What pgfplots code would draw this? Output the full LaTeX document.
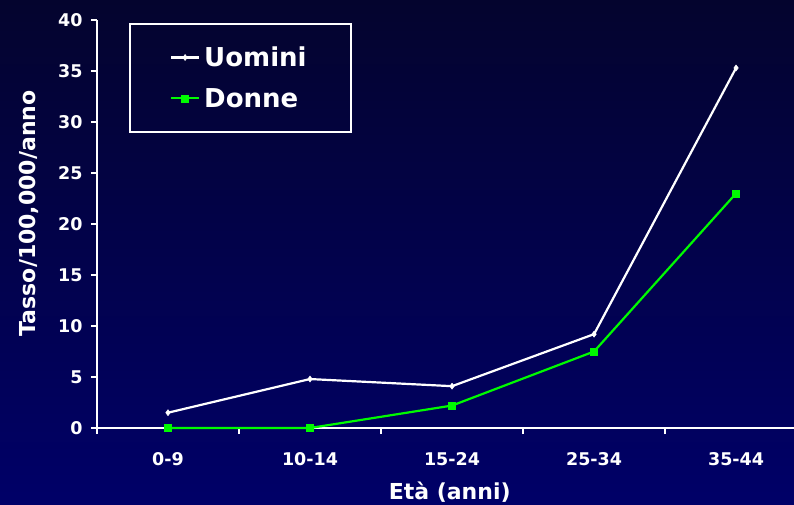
\documentclass[border=0pt]{standalone}
\usepackage{pgfplots}
\pgfplotsset{compat=1.18}
\usepackage{fontspec}
\setmainfont{DejaVu Sans}
\definecolor{bgtop}{RGB}{4,4,46}
\definecolor{bgmid}{RGB}{0,0,92}
\definecolor{bgbot}{RGB}{0,0,104}
\definecolor{dgreen}{RGB}{0,250,0}

\begin{document}
\begin{tikzpicture}
\useasboundingbox (0,0) rectangle (794bp,505bp);
\shade[top color=bgtop, middle color=bgmid, bottom color=bgbot] (0,0) rectangle (794bp,505bp);
\begin{axis}[
    at={(97bp,77bp)}, anchor=south west,
    scale only axis, width=697bp, height=408bp,
    xmin=-0.5, xmax=4.408, ymin=0, ymax=40,
    clip=false,
    axis x line=bottom, axis y line=left,
    axis line style={-, white, line width=2bp},
    ytick={0,5,...,40},
    xtick={0,1,2,3,4},
    xticklabels={0-9,10-14,15-24,25-34,35-44},
    xtick style={draw=none},
    extra x ticks={-0.5,0.5,1.5,2.5,3.5},
    extra x tick labels={},
    extra x tick style={xtick style={draw=white, line width=2bp}},
    ytick style={white, line width=2bp},
    tick align=outside, major tick length=6bp,
    /pgf/number format/assume math mode=true,
    ticklabel style={font=\fontsize{17.5bp}{20bp}\selectfont\bfseries, text=white},
    xticklabel style={yshift=-15bp},
    yticklabel style={xshift=-5bp},
    xlabel={Età (anni)},
    ylabel={Tasso/100,000/anno},
    label style={font=\fontsize{22bp}{26bp}\selectfont\bfseries, text=white, inner sep=0pt},
    xlabel style={at={(axis description cs:0.506,-0.132)}, anchor=north},
    ylabel style={at={(axis description cs:-0.112,0.526)}, anchor=north},
    legend cell align=left,
    legend style={at={(axis description cs:0.0459,0.993)}, anchor=north west,
        draw=white, line width=2bp, fill=none, text=white,
        font=\fontsize{26bp}{30bp}\selectfont\bfseries,
        inner xsep=40bp, inner ysep=21bp, row sep=16bp,
        nodes={inner xsep=4bp},
        every even column/.style={text width=110bp}},
    legend image code/.code={\draw[mark repeat=2, mark phase=2, #1] plot coordinates {(0bp,0bp) (14bp,0bp) (28bp,0bp)};},
]
\addplot[white, line width=2.2bp, mark=diamond*, mark size=3bp, mark options={line width=0.5bp}]
    coordinates {(0,1.5) (1,4.8) (2,4.1) (3,9.2) (4,35.3)};
\addlegendentry{Uomini}
\addplot[dgreen, line width=2.2bp, mark=square*, mark size=3.5bp, mark options={line width=0.5bp}]
    coordinates {(0,0) (1,0) (2,2.2) (3,7.5) (4,23)};
\addlegendentry{Donne}
\end{axis}
\end{tikzpicture}
\end{document}
